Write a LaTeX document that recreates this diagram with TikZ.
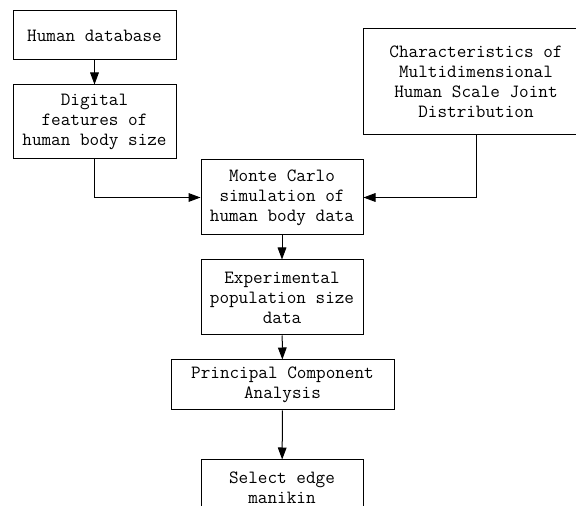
\documentclass[tikz,border=0pt]{standalone}
\usepackage{fontspec}
\usetikzlibrary{arrows.meta}
\begin{document}
\begin{tikzpicture}[x=.75pt,y=-.75pt,
  blk/.style={draw,line width=.75pt,align=center,inner sep=0pt,
    font=\ttfamily\fontsize{14}{15}\selectfont},
  >={Triangle[length=9pt,width=6.5pt]}]
  \useasboundingbox (0,0) rectangle (576,506);
  \clip (0,0) rectangle (576,506);
  % boxes
  \node[blk,minimum width=122.25pt,minimum height=36.75pt] (db) at (94.5,35.5)
    {Human database};
  \node[blk,minimum width=122.25pt,minimum height=55.5pt] (feat) at (94.5,122)
    {Digital\\features of\\human body size};
  \node[blk,minimum width=169.5pt,minimum height=79.5pt] (joint) at (476,82)
    {Characteristics of\\Multidimensional\\Human Scale Joint\\Distribution};
  \node[blk,minimum width=121.5pt,minimum height=56.25pt] (mc) at (282,197.5)
    {Monte Carlo\\simulation of\\human body data};
  \node[blk,minimum width=121.5pt,minimum height=56.25pt] (expt) at (282,297.5)
    {Experimental\\population size\\data};
  \node[blk,minimum width=167.25pt,minimum height=37.5pt] (pca) at (282.5,385)
    {Principal Component\\Analysis};
  \node[blk,minimum width=121.5pt,minimum height=56.25pt] (sel) at (282,497.5)
    {Select edge\\manikin\\\phantom{x}};
  % connectors
  \draw[->,line width=.75pt] (db) -- (feat);
  \draw[->,line width=.75pt] (feat.south) |- (mc.west);
  \draw[->,line width=.75pt] (joint.south) |- (mc.east);
  \foreach \a/\b in {mc/expt,expt/pca,pca/sel}
    \draw[->,line width=.75pt] (\a) -- (\b);
\end{tikzpicture}
\end{document}
